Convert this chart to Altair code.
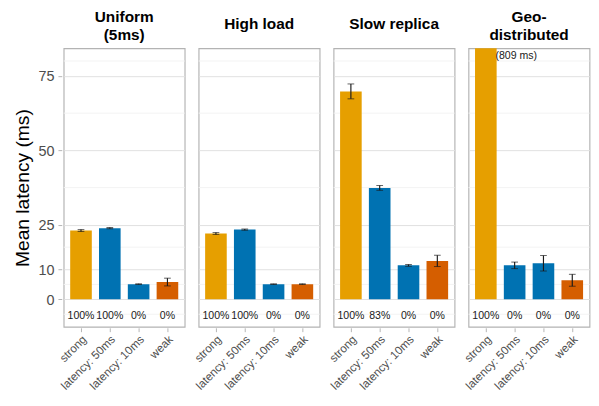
import altair as alt
import pandas as pd

panels = ["Uniform|(5ms)", "High load", "Slow replica", "Geo-|distributed"]
conds = ["strong", "latency: 50ms", "latency: 10ms", "weak"]
colors = ["#E69F00", "#0072B2", "#0072B2", "#D55E00"]

means = {
    "Uniform|(5ms)":    [23.1, 23.9, 5.1, 5.8],
    "High load":        [22.1, 23.4, 5.1, 5.1],
    "Slow replica":     [69.8, 37.4, 11.4, 12.9],
    "Geo-|distributed": [809.0, 11.4, 12.1, 6.4],
}
errs = {
    "Uniform|(5ms)":    [0.3, 0.2, 0.1, 1.3],
    "High load":        [0.3, 0.2, 0.1, 0.1],
    "Slow replica":     [2.5, 0.8, 0.3, 1.9],
    "Geo-|distributed": [None, 1.1, 2.6, 2.0],
}
pcts = {
    "Uniform|(5ms)":    ["100%", "100%", "0%", "0%"],
    "High load":        ["100%", "100%", "0%", "0%"],
    "Slow replica":     ["100%", "83%", "0%", "0%"],
    "Geo-|distributed": ["100%", "0%", "0%", "0%"],
}
notes = {"Geo-|distributed": ["(809 ms)", "", "", ""]}

major_ticks = [0, 10, 25, 50, 75]
minor_ticks = [-5, 5, 17.5, 37.5, 62.5, 80]
y_domain = [-9.25, 84.25]
y_title = "Mean latency (ms)"

rows = []
for p in panels:
    for i, c in enumerate(conds):
        m = means[p][i]
        e = errs[p][i]
        rows.append({
            "panel": p,
            "cond": c,
            "mean": m,
            "lo": (m - e) if e is not None else None,
            "hi": (m + e) if e is not None else None,
            "pct": pcts[p][i],
            "note": notes.get(p, ["", "", "", ""])[i],
        })
df = pd.DataFrame(rows)

FONT = "Liberation Sans"
PW, PH = 126, 290

yscale = alt.Scale(domain=y_domain, nice=False, zero=False, padding=0)
xenc = alt.X(
    "cond:N",
    sort=conds,
    title=None,
    scale=alt.Scale(paddingInner=0.25, paddingOuter=0.225),
    axis=alt.Axis(
        labelAngle=-45,
        labelFontSize=12,
        labelColor="#4d4d4d",
        labelFont=FONT,
        tickColor="#b3b3b3",
        tickSize=4,
        domain=False,
        labelPadding=2,
    ),
)
yaxis = alt.Axis(
    values=major_ticks,
    gridColor="#e0e0e0",
    tickColor="#b3b3b3",
    tickSize=4,
    domain=False,
    labelFontSize=15,
    labelColor="#4d4d4d",
    labelFont=FONT,
    labelPadding=4,
    title=y_title,
    titleFontSize=20,
    titleFontWeight="normal",
    titleColor="black",
    titleFont=FONT,
    titlePadding=6,
)

base = alt.Chart(df)

minor_grid = base.transform_filter("datum.cond == 'strong'").transform_calculate(
    mv=str(minor_ticks)
).transform_flatten(["mv"]).mark_rule(color="#f2f2f2", strokeWidth=1).encode(
    y=alt.Y("mv:Q", scale=yscale, axis=yaxis, title=y_title),
)

bars = base.mark_bar(clip=True).encode(
    x=xenc,
    y=alt.Y("mean:Q", scale=yscale, axis=yaxis, title=y_title),
    color=alt.Color("cond:N", sort=conds, scale=alt.Scale(domain=conds, range=colors), legend=None),
)

errbars = base.transform_filter("isValid(datum.lo)").mark_errorbar(
    ticks={"size": 7, "color": "#1a1a1a", "strokeWidth": 1.2},
    rule={"color": "#1a1a1a", "strokeWidth": 1.2},
).encode(
    x=alt.X("cond:N", sort=conds),
    y=alt.Y("lo:Q", scale=yscale, axis=yaxis, title=y_title),
    y2="hi:Q",
)

pct_text = base.mark_text(
    fontSize=11, font=FONT, color="#1a1a1a", baseline="middle", dy=1.5
).encode(
    x=alt.X("cond:N", sort=conds),
    y=alt.datum(-5, scale=yscale, axis=yaxis, title=y_title),
    text="pct:N",
)

note_text = base.transform_filter("datum.note != ''").mark_text(
    fontSize=11, font=FONT, color="#1a1a1a", align="left", baseline="bottom", dx=10
).encode(
    x=alt.X("cond:N", sort=conds),
    y=alt.datum(80, scale=yscale, axis=yaxis, title=y_title),
    text="note:N",
)

strip_style = dict(fontSize=16, fontWeight="bold", font=FONT, color="black",
                   baseline="middle", align="center", lineHeight=18)

strip_one = base.transform_filter(
    "datum.cond == 'strong' && indexof(datum.panel, '|') < 0"
).mark_text(**strip_style).encode(
    x=alt.value(PW / 2),
    y=alt.value(-24.7),
    text="panel:N",
)

strip_two = base.transform_filter(
    "datum.cond == 'strong' && indexof(datum.panel, '|') >= 0"
).transform_calculate(
    tl="split(datum.panel, '|')"
).mark_text(**strip_style).encode(
    x=alt.value(PW / 2),
    y=alt.value(-32),
    text="tl:N",
)

layered = alt.layer(minor_grid, bars, errbars, pct_text, note_text, strip_one, strip_two).properties(
    width=PW, height=PH
)

chart = layered.facet(
    column=alt.Facet(
        "panel:N",
        sort=panels,
        title=None,
        header=alt.Header(labels=False),
    ),
    spacing=10.5,
).properties(
    padding={"left": 5, "top": -7, "right": 0, "bottom": -3}
).configure_view(
    stroke="#b3b3b3", strokeWidth=1.2
)

chart.save("out.html", embed_options={"renderer": "svg", "actions": False})
